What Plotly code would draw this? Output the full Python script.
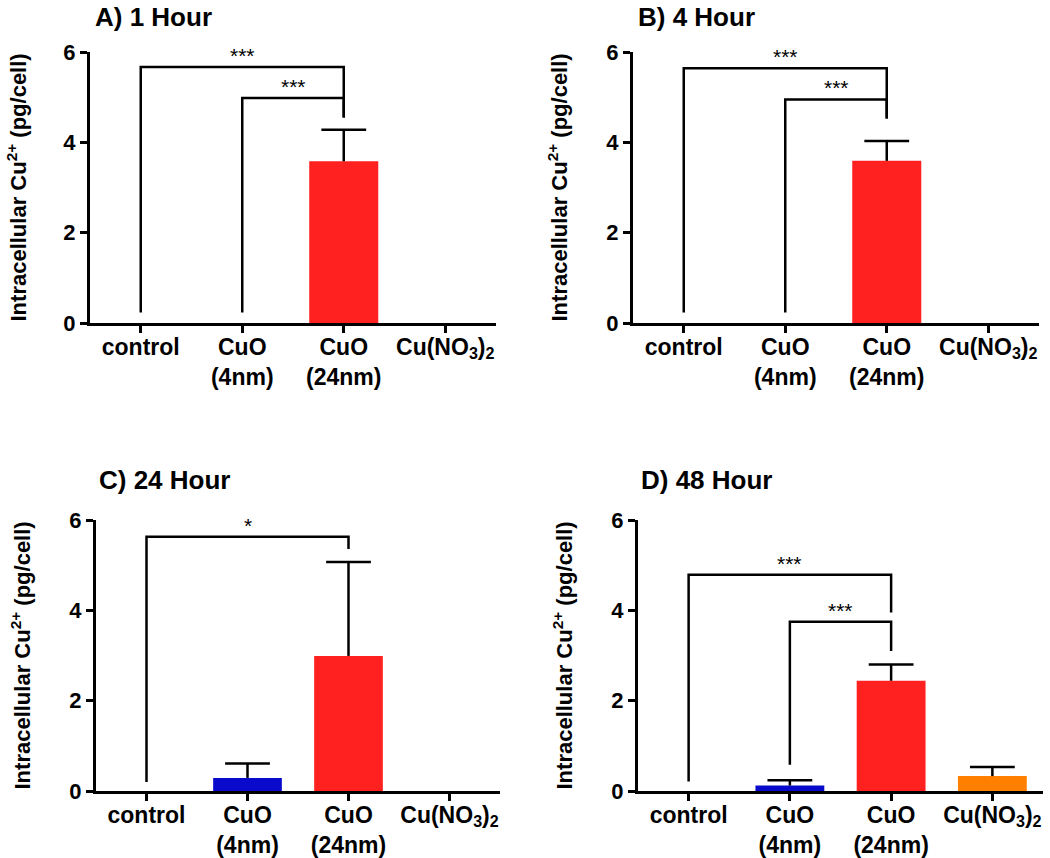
import plotly.graph_objects as go

# ---------------- data ----------------
categories = ["control", "CuO (4nm)", "CuO (24nm)", "Cu(NO3)2"]
tick_labels = ["control", "CuO<br>(4nm)", "CuO<br>(24nm)", "Cu(NO<sub>3</sub>)<sub>2</sub>"]
panel_titles = ["A) 1 Hour", "B) 4 Hour", "C) 24 Hour", "D) 48 Hour"]
y_title = "Intracellular Cu<sup>2+</sup> (pg/cell)"
y_ticks = [0, 2, 4, 6]

mean_1h = [0.0, 0.0, 3.58, 0.0]
sem_1h = [0.0, 0.0, 0.70, 0.0]
mean_4h = [0.0, 0.0, 3.59, 0.0]
sem_4h = [0.0, 0.0, 0.44, 0.0]
mean_24h = [0.0, 0.29, 2.99, 0.0]
sem_24h = [0.0, 0.32, 2.08, 0.0]
mean_48h = [0.0, 0.12, 2.44, 0.33]
sem_48h = [0.0, 0.12, 0.36, 0.20]

bar_colors = ["#000000", "#0A0ACC", "#FF2020", "#FF8000"]

# significance brackets: (from idx, to idx, bracket height, left leg bottom, right leg bottom, label)
brackets_1h = [(0, 2, 5.67, 0.23, 4.55, "***"), (1, 2, 4.98, 0.23, 4.55, "***")]
brackets_4h = [(0, 2, 5.64, 0.23, 4.53, "***"), (1, 2, 4.95, 0.23, 4.53, "***")]
brackets_24h = [(0, 2, 5.63, 0.20, 5.36, "*")]
brackets_48h = [(0, 2, 4.79, 0.21, 3.95, "***"), (1, 2, 3.75, 0.58, 3.10, "***")]

means = [mean_1h, mean_4h, mean_24h, mean_48h]
sems = [sem_1h, sem_4h, sem_24h, sem_48h]
brackets = [brackets_1h, brackets_4h, brackets_24h, brackets_48h]

# ---------------- layout geometry (pixels) ----------------
W, H = 1050, 858
# x_left, x_right, y_top, y_bottom of each plot area
boxes = [(90, 496, 52, 323), (633, 1039, 52, 323), (96, 500, 520, 791), (638, 1043, 520, 791)]
# title: left x, top y (None -> top of page), or centre y
title_pos = [(93, 0), (636, 0), (97, 480), (639, 480)]
ytitle_x = [16, 557, 20, 562]

FONT = "Liberation Sans, Arial, sans-serif"


def px(x):
    return min(1.0, max(0.0, x / W))


def py(y):
    return min(1.0, max(0.0, 1 - y / H))


fig = go.Figure()
layout = dict(
    width=W, height=H, autosize=False,
    margin=dict(l=0, r=0, t=0, b=0),
    paper_bgcolor="white", plot_bgcolor="white",
    showlegend=False, bargap=0.32,
    font=dict(family=FONT, color="black"),
)
shapes = []
annotations = []

for i in range(4):
    n = "" if i == 0 else str(i + 1)
    xa, ya = "x" + n, "y" + n
    x0, x1, yt, yb = boxes[i]
    xs = list(range(len(categories)))
    fig.add_trace(go.Bar(
        x=xs, y=means[i], xaxis=xa, yaxis=ya,
        width=0.68,
        marker=dict(color=bar_colors, line=dict(width=0)),
        hoverinfo="skip",
    ))
    # upward-only error bars: stem + cap
    ex, ey, cx, cy = [], [], [], []
    for k, (m, s) in enumerate(zip(means[i], sems[i])):
        if s > 0:
            ex += [k, k, None]
            ey += [m, m + s, None]
            cx.append(k)
            cy.append(m + s)
    fig.add_trace(go.Scatter(
        x=ex, y=ey, xaxis=xa, yaxis=ya, mode="lines",
        line=dict(color="black", width=2.5), hoverinfo="skip", cliponaxis=False,
    ))
    fig.add_trace(go.Scatter(
        x=cx, y=cy, xaxis=xa, yaxis=ya, mode="markers",
        marker=dict(symbol="line-ew", size=32, line=dict(color="black", width=2.5)),
        hoverinfo="skip", cliponaxis=False,
    ))
    layout["xaxis" + n] = dict(
        domain=[px(x0), px(x1)], anchor=ya, range=[-0.5, 3.5],
        tickmode="array", tickvals=xs, ticktext=tick_labels,
        showline=True, linewidth=3, linecolor="black",
        ticks="outside", ticklen=7, tickwidth=2.5, tickcolor="black",
        ticklabelstandoff=-6,
        showgrid=False, zeroline=False, automargin=False, fixedrange=True,
        tickfont=dict(family=FONT, size=23, color="black", weight="bold"),
    )
    layout["yaxis" + n] = dict(
        domain=[py(yb), py(yt)], anchor=xa, range=[0, 6],
        tickmode="array", tickvals=y_ticks,
        showline=True, linewidth=3, linecolor="black",
        ticks="outside", ticklen=7, tickwidth=2.5, tickcolor="black",
        showgrid=False, zeroline=False, automargin=False, fixedrange=True,
        tickfont=dict(family=FONT, size=22, color="black", weight="bold"),
    )
    # panel title
    tx, ty = title_pos[i]
    annotations.append(dict(
        text=panel_titles[i], xref="paper", yref="paper",
        x=px(tx), y=py(ty), xanchor="left",
        yanchor="top" if ty == 0 else "middle",
        showarrow=False, font=dict(family=FONT, size=26, color="black", weight="bold"),
    ))
    # y axis title
    annotations.append(dict(
        text=y_title, xref="paper", yref="paper",
        x=px(ytitle_x[i]), y=py((yt + yb) / 2), xanchor="center", yanchor="middle",
        textangle=-90, showarrow=False,
        font=dict(family=FONT, size=22, color="black", weight="bold"),
    ))
    # significance brackets
    for (a, b, h, lb, rb, lab) in brackets[i]:
        shapes.append(dict(
            type="path", xref=xa, yref=ya,
            path=f"M {a},{lb} L {a},{h} L {b},{h} L {b},{rb}",
            line=dict(color="black", width=2.5),
        ))
        annotations.append(dict(
            text=lab, xref=xa, yref=ya, x=(a + b) / 2, y=h,
            xanchor="center", yanchor="bottom", yshift=-2,
            showarrow=False, font=dict(family=FONT, size=21, color="black"),
        ))

layout["shapes"] = shapes
layout["annotations"] = annotations
fig.update_layout(**layout)
fig.write_html(
    "out.html",
    config={"displayModeBar": False},
    post_script="document.body.style.margin='0';document.body.style.padding='0';",
)
